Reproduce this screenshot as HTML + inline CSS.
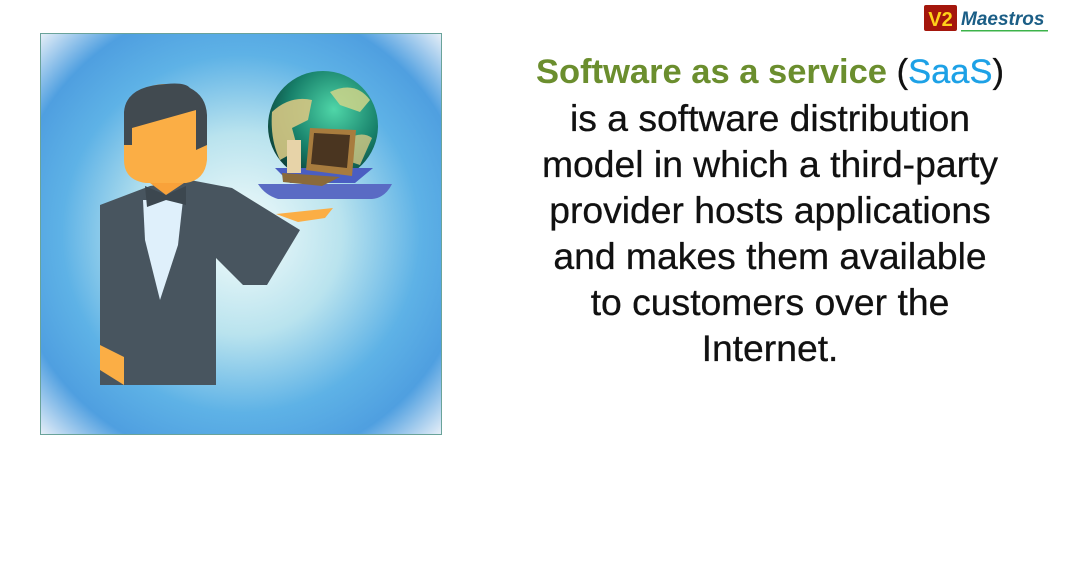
<!DOCTYPE html>
<html><head><meta charset="utf-8"><style>
html,body{margin:0;padding:0;background:#fff;width:1081px;height:565px;overflow:hidden;position:relative;font-family:"Liberation Sans",Arial,sans-serif}
.txt{position:absolute;left:470px;width:600px;top:47px;text-align:center;font-size:37.3px;line-height:46px;color:#111;-webkit-text-stroke:0.3px #111}
.l1{font-size:34.5px}
.g{color:#6b8e2e;font-weight:bold;-webkit-text-stroke:0}
.b{color:#1da1e6;-webkit-text-stroke:0.3px #1da1e6}
.logo{position:absolute;left:924px;top:5px}
</style></head><body>
<svg width="1081" height="565" style="position:absolute;left:0;top:0">
<defs>
<radialGradient id="bg" cx="0.5" cy="0.5" r="0.72">
<stop offset="0" stop-color="#f4fcfb"/>
<stop offset="0.35" stop-color="#b9e3ee"/>
<stop offset="0.62" stop-color="#5eb2e6"/>
<stop offset="0.8" stop-color="#4f9fe0"/>
<stop offset="1" stop-color="#f6f7fa"/>
</radialGradient>
<radialGradient id="gl" cx="0.6" cy="0.35" r="0.7">
<stop offset="0" stop-color="#4fd6a8"/>
<stop offset="0.6" stop-color="#17806a"/>
<stop offset="1" stop-color="#0c3c36"/>
</radialGradient>
</defs>
<rect x="40.5" y="33.5" width="401" height="401" fill="url(#bg)" stroke="#6aa39a"/>
<path d="M150 186 L100 205 L100 385 L216 385 L216 258 L243 285 L267 285 L300 230 L232 188 L190 180 Z" fill="#48555f"/>
<path d="M143 200 L183 200 L178 245 L160 300 L145 240 Z" fill="#dff0fb"/>
<path d="M145 186 L166 195 L186 186 L186 205 L166 200 L147 207 Z" fill="#3c474f"/>
<path d="M150 183 L184 183 L166 195 Z" fill="#f9a23a"/>
<path d="M100 345 L124 357 L124 385 L100 370 Z" fill="#fbae45"/>
<path d="M276 214 L333 208 L325 218 L298 222 Z" fill="#fbae45"/>
<path d="M124 130 Q124 85 166 84 Q208 86 207 130 L207 160 Q205 180 186 183 L146 183 Q124 180 124 160 Z" fill="#fbae45"/>
<path d="M124 145 L124 112 Q126 86 166 84 Q185 82 190 88 Q206 96 207 115 L207 145 L196 150 L196 110 L132 128 L132 145 Z" fill="#414a50"/>
<circle cx="323" cy="126" r="55" fill="url(#gl)"/>
<path d="M272 112 Q290 95 312 100 L308 120 L292 128 L298 150 L280 160 Q270 140 272 112 Z" fill="#d6c783" opacity="0.9"/>
<path d="M330 92 Q355 80 370 100 L360 112 L340 105 Z" fill="#cfd58a" opacity="0.85"/>
<path d="M345 140 Q362 130 372 138 L360 165 L345 160 Z" fill="#d6c783" opacity="0.8"/>
<path d="M275 168 L373 168 L355 183 L290 183 Z" fill="#4a5ec2"/>
<path d="M258 184 L392 184 Q385 198 372 199 L278 199 Q265 195 258 184 Z" fill="#5a6bc4"/>
<rect x="287" y="140" width="14" height="33" fill="#e7d3a8"/>
<path d="M310 128 L356 130 L352 176 L306 170 Z" fill="#a87c3e"/>
<path d="M314 133 L350 135 L347 168 L311 164 Z" fill="#4a3520"/>
<path d="M282 173 L340 177 L322 186 L283 182 Z" fill="#8a6a3a"/>
</svg>
<div class="logo"><svg width="130" height="28">
<rect x="0" y="0" width="33" height="26" rx="2" fill="#a4160c"/>
<text x="16.5" y="21" font-family="Liberation Sans,Arial,sans-serif" font-size="20" font-weight="bold" fill="#ffd21a" text-anchor="middle">V2</text>
<text x="37" y="20" font-family="Liberation Sans,Arial,sans-serif" font-size="19" font-weight="bold" font-style="italic" fill="#1b5e86">Maestros</text>
<rect x="37" y="25" width="87" height="1.5" fill="#3cb34a"/>
</svg></div>
<div class="txt"><span class="l1"><span class="g">Software as a service</span> (<span class="b">SaaS</span>)</span><br>is a software distribution<br>model in which a third-party<br>provider hosts applications<br>and makes them available<br>to customers over the<br>Internet.</div>
</body></html>
